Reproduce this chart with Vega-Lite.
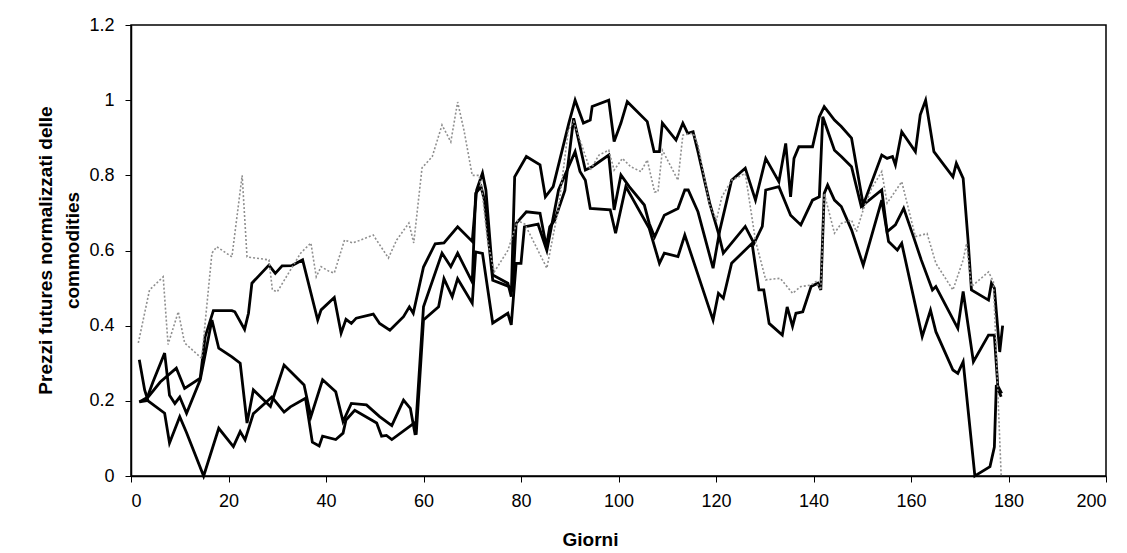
{
  "$schema": "https://vega.github.io/schema/vega-lite/v6.json",
  "autosize": "none",
  "width": 975,
  "height": 451,
  "padding": {"left": 131, "top": 25, "right": 21, "bottom": 77},
  "background": "white",
  "config": {
    "view": {"stroke": "black", "strokeWidth": 1.5},
    "font": "Liberation Sans",
    "axis": {
      "domainColor": "black", "domainWidth": 1.5, "tickColor": "black", "tickSize": 6, "tickWidth": 1,
      "labelColor": "black", "labelFont": "Liberation Sans", "labelFontSize": 18,
      "titleColor": "black", "titleFont": "Liberation Sans", "titleFontSize": 19, "titleFontWeight": "bold",
      "grid": false
    }
  },
  "data": {"values": [
    {"s":"A","d":1.7,"v":0.197},{"s":"A","d":3.5,"v":0.21},{"s":"A","d":6,"v":0.25},{"s":"A","d":9.3,"v":0.287},{"s":"A","d":11,"v":0.233},{"s":"A","d":14.2,"v":0.26},{"s":"A","d":15.2,"v":0.37},{"s":"A","d":16.9,"v":0.44},{"s":"A","d":20.7,"v":0.44},{"s":"A","d":21.3,"v":0.437},{"s":"A","d":23.3,"v":0.39},{"s":"A","d":24.1,"v":0.433},{"s":"A","d":24.8,"v":0.513},{"s":"A","d":28.3,"v":0.561},{"s":"A","d":29.6,"v":0.539},{"s":"A","d":31,"v":0.559},{"s":"A","d":33,"v":0.56},{"s":"A","d":35.2,"v":0.575},{"s":"A","d":38.3,"v":0.415},{"s":"A","d":39,"v":0.442},{"s":"A","d":41.7,"v":0.475},{"s":"A","d":43.1,"v":0.38},{"s":"A","d":44.1,"v":0.417},{"s":"A","d":45.2,"v":0.406},{"s":"A","d":46.2,"v":0.42},{"s":"A","d":49.7,"v":0.431},{"s":"A","d":51,"v":0.406},{"s":"A","d":53.1,"v":0.388},{"s":"A","d":55.9,"v":0.424},{"s":"A","d":57.1,"v":0.45},{"s":"A","d":57.9,"v":0.433},{"s":"A","d":60,"v":0.556},{"s":"A","d":62.4,"v":0.618},{"s":"A","d":64.2,"v":0.62},{"s":"A","d":67,"v":0.663},{"s":"A","d":70,"v":0.624},{"s":"A","d":70.9,"v":0.761},{"s":"A","d":72.1,"v":0.806},{"s":"A","d":72.8,"v":0.761},{"s":"A","d":74.2,"v":0.535},{"s":"A","d":77.3,"v":0.513},{"s":"A","d":78,"v":0.477},{"s":"A","d":78.7,"v":0.796},{"s":"A","d":81.1,"v":0.85},{"s":"A","d":83.9,"v":0.828},{"s":"A","d":85,"v":0.743},{"s":"A","d":86.6,"v":0.77},{"s":"A","d":89.8,"v":0.938},{"s":"A","d":91.1,"v":1.0},{"s":"A","d":92.8,"v":0.939},{"s":"A","d":94.2,"v":0.947},{"s":"A","d":94.6,"v":0.983},{"s":"A","d":98,"v":1.0},{"s":"A","d":99.1,"v":0.89},{"s":"A","d":100.5,"v":0.939},{"s":"A","d":101.8,"v":0.996},{"s":"A","d":105.9,"v":0.943},{"s":"A","d":107.3,"v":0.863},{"s":"A","d":108.4,"v":0.863},{"s":"A","d":109,"v":0.939},{"s":"A","d":111.8,"v":0.894},{"s":"A","d":113.2,"v":0.939},{"s":"A","d":114.2,"v":0.912},{"s":"A","d":115.3,"v":0.916},{"s":"A","d":116.3,"v":0.863},{"s":"A","d":118.7,"v":0.726},{"s":"A","d":120.5,"v":0.646},{"s":"A","d":121.5,"v":0.593},{"s":"A","d":126,"v":0.664},{"s":"A","d":127.8,"v":0.619},{"s":"A","d":129.5,"v":0.664},{"s":"A","d":130.2,"v":0.761},{"s":"A","d":132.9,"v":0.77},{"s":"A","d":135.3,"v":0.694},{"s":"A","d":137.4,"v":0.668},{"s":"A","d":139.8,"v":0.734},{"s":"A","d":141.2,"v":0.743},{"s":"A","d":141.9,"v":0.956},{"s":"A","d":144.3,"v":0.867},{"s":"A","d":145.7,"v":0.85},{"s":"A","d":147.8,"v":0.823},{"s":"A","d":149.8,"v":0.717},{"s":"A","d":154,"v":0.761},{"s":"A","d":155.1,"v":0.65},{"s":"A","d":156.8,"v":0.668},{"s":"A","d":158.5,"v":0.712},{"s":"A","d":160.5,"v":0.637},{"s":"A","d":162.1,"v":0.575},{"s":"A","d":164.4,"v":0.495},{"s":"A","d":165.1,"v":0.504},{"s":"A","d":169.6,"v":0.393},{"s":"A","d":170.7,"v":0.491},{"s":"A","d":172.8,"v":0.304},{"s":"A","d":175.9,"v":0.375},{"s":"A","d":177.1,"v":0.375},{"s":"A","d":177.8,"v":0.24},{"s":"A","d":178.6,"v":0.22},
    {"s":"B","d":1.7,"v":0.197},{"s":"B","d":3.1,"v":0.2},{"s":"B","d":4.5,"v":0.25},{"s":"B","d":6.9,"v":0.327},{"s":"B","d":7.9,"v":0.215},{"s":"B","d":9,"v":0.193},{"s":"B","d":10,"v":0.21},{"s":"B","d":11.4,"v":0.167},{"s":"B","d":14.2,"v":0.256},{"s":"B","d":16.6,"v":0.415},{"s":"B","d":18,"v":0.34},{"s":"B","d":20.7,"v":0.317},{"s":"B","d":22.4,"v":0.3},{"s":"B","d":23.8,"v":0.141},{"s":"B","d":25.1,"v":0.229},{"s":"B","d":28.6,"v":0.185},{"s":"B","d":31.4,"v":0.295},{"s":"B","d":35.5,"v":0.242},{"s":"B","d":36.9,"v":0.158},{"s":"B","d":39.3,"v":0.256},{"s":"B","d":42,"v":0.224},{"s":"B","d":43.5,"v":0.145},{"s":"B","d":45.2,"v":0.193},{"s":"B","d":48.3,"v":0.189},{"s":"B","d":51,"v":0.158},{"s":"B","d":53.5,"v":0.134},{"s":"B","d":55.9,"v":0.202},{"s":"B","d":57.3,"v":0.18},{"s":"B","d":58.3,"v":0.109},{"s":"B","d":60,"v":0.45},{"s":"B","d":63.8,"v":0.593},{"s":"B","d":65.6,"v":0.557},{"s":"B","d":67,"v":0.593},{"s":"B","d":70,"v":0.516},{"s":"B","d":70.7,"v":0.752},{"s":"B","d":71.8,"v":0.77},{"s":"B","d":72.5,"v":0.734},{"s":"B","d":74.2,"v":0.521},{"s":"B","d":77.6,"v":0.504},{"s":"B","d":78.3,"v":0.495},{"s":"B","d":79,"v":0.672},{"s":"B","d":81.1,"v":0.703},{"s":"B","d":83.9,"v":0.699},{"s":"B","d":85.2,"v":0.61},{"s":"B","d":85.9,"v":0.663},{"s":"B","d":86.9,"v":0.68},{"s":"B","d":89,"v":0.76},{"s":"B","d":90.8,"v":0.952},{"s":"B","d":93.2,"v":0.814},{"s":"B","d":94.6,"v":0.823},{"s":"B","d":98,"v":0.854},{"s":"B","d":99.1,"v":0.708},{"s":"B","d":100.5,"v":0.801},{"s":"B","d":102.2,"v":0.77},{"s":"B","d":105.3,"v":0.721},{"s":"B","d":106.3,"v":0.672},{"s":"B","d":107.4,"v":0.636},{"s":"B","d":109.4,"v":0.694},{"s":"B","d":112.2,"v":0.712},{"s":"B","d":113.6,"v":0.761},{"s":"B","d":114.3,"v":0.761},{"s":"B","d":116.3,"v":0.703},{"s":"B","d":119.4,"v":0.553},{"s":"B","d":120.8,"v":0.655},{"s":"B","d":123.2,"v":0.787},{"s":"B","d":126,"v":0.819},{"s":"B","d":128.1,"v":0.734},{"s":"B","d":130.2,"v":0.845},{"s":"B","d":132.9,"v":0.783},{"s":"B","d":134.3,"v":0.885},{"s":"B","d":135.3,"v":0.743},{"s":"B","d":136,"v":0.845},{"s":"B","d":137,"v":0.876},{"s":"B","d":139.8,"v":0.876},{"s":"B","d":141.2,"v":0.956},{"s":"B","d":142.2,"v":0.983},{"s":"B","d":144.3,"v":0.947},{"s":"B","d":145.7,"v":0.93},{"s":"B","d":147.8,"v":0.899},{"s":"B","d":150.2,"v":0.721},{"s":"B","d":154,"v":0.854},{"s":"B","d":155.1,"v":0.845},{"s":"B","d":156.2,"v":0.85},{"s":"B","d":156.8,"v":0.828},{"s":"B","d":158.1,"v":0.916},{"s":"B","d":160.9,"v":0.863},{"s":"B","d":161.9,"v":0.961},{"s":"B","d":163,"v":1.0},{"s":"B","d":164.7,"v":0.863},{"s":"B","d":168.6,"v":0.796},{"s":"B","d":169.3,"v":0.832},{"s":"B","d":170.7,"v":0.792},{"s":"B","d":171.7,"v":0.628},{"s":"B","d":172.4,"v":0.495},{"s":"B","d":175.9,"v":0.468},{"s":"B","d":176.5,"v":0.513},{"s":"B","d":177.1,"v":0.5},{"s":"B","d":178.2,"v":0.33},{"s":"B","d":178.8,"v":0.4},
    {"s":"C","d":1.7,"v":0.309},{"s":"C","d":2.8,"v":0.229},{"s":"C","d":3.5,"v":0.2},{"s":"C","d":6.9,"v":0.167},{"s":"C","d":7.9,"v":0.088},{"s":"C","d":10,"v":0.158},{"s":"C","d":11.4,"v":0.115},{"s":"C","d":14.9,"v":0.0},{"s":"C","d":18,"v":0.127},{"s":"C","d":21,"v":0.078},{"s":"C","d":22.4,"v":0.118},{"s":"C","d":23.4,"v":0.096},{"s":"C","d":25.1,"v":0.166},{"s":"C","d":28.9,"v":0.21},{"s":"C","d":31.4,"v":0.17},{"s":"C","d":32.7,"v":0.184},{"s":"C","d":35.8,"v":0.207},{"s":"C","d":37.2,"v":0.09},{"s":"C","d":38.6,"v":0.08},{"s":"C","d":39.3,"v":0.106},{"s":"C","d":42,"v":0.097},{"s":"C","d":43.5,"v":0.114},{"s":"C","d":44.1,"v":0.149},{"s":"C","d":45.9,"v":0.175},{"s":"C","d":50.4,"v":0.141},{"s":"C","d":51.4,"v":0.106},{"s":"C","d":52.4,"v":0.108},{"s":"C","d":53.5,"v":0.097},{"s":"C","d":58,"v":0.14},{"s":"C","d":58.5,"v":0.11},{"s":"C","d":60,"v":0.415},{"s":"C","d":63.1,"v":0.45},{"s":"C","d":64.2,"v":0.525},{"s":"C","d":65.9,"v":0.477},{"s":"C","d":67,"v":0.525},{"s":"C","d":70,"v":0.46},{"s":"C","d":70.7,"v":0.596},{"s":"C","d":72.1,"v":0.592},{"s":"C","d":74.2,"v":0.407},{"s":"C","d":77.3,"v":0.433},{"s":"C","d":78,"v":0.402},{"s":"C","d":79,"v":0.566},{"s":"C","d":80,"v":0.566},{"s":"C","d":80.7,"v":0.663},{"s":"C","d":83.5,"v":0.67},{"s":"C","d":85.3,"v":0.6},{"s":"C","d":87.7,"v":0.761},{"s":"C","d":91.1,"v":0.863},{"s":"C","d":92.1,"v":0.81},{"s":"C","d":93.2,"v":0.787},{"s":"C","d":94.2,"v":0.712},{"s":"C","d":98.3,"v":0.708},{"s":"C","d":99.4,"v":0.646},{"s":"C","d":101.5,"v":0.77},{"s":"C","d":106.3,"v":0.659},{"s":"C","d":108.4,"v":0.566},{"s":"C","d":109.4,"v":0.593},{"s":"C","d":112.2,"v":0.584},{"s":"C","d":113.6,"v":0.641},{"s":"C","d":118.7,"v":0.442},{"s":"C","d":119.4,"v":0.415},{"s":"C","d":120.5,"v":0.486},{"s":"C","d":121.5,"v":0.473},{"s":"C","d":123.2,"v":0.566},{"s":"C","d":127.4,"v":0.619},{"s":"C","d":128.8,"v":0.495},{"s":"C","d":129.8,"v":0.495},{"s":"C","d":130.9,"v":0.406},{"s":"C","d":133.6,"v":0.375},{"s":"C","d":134.6,"v":0.45},{"s":"C","d":135.7,"v":0.398},{"s":"C","d":136.4,"v":0.433},{"s":"C","d":137.8,"v":0.437},{"s":"C","d":139.5,"v":0.504},{"s":"C","d":140.9,"v":0.513},{"s":"C","d":141.5,"v":0.495},{"s":"C","d":142.2,"v":0.752},{"s":"C","d":142.9,"v":0.774},{"s":"C","d":144.3,"v":0.734},{"s":"C","d":145.7,"v":0.717},{"s":"C","d":147.8,"v":0.655},{"s":"C","d":150.2,"v":0.561},{"s":"C","d":154,"v":0.734},{"s":"C","d":155.4,"v":0.624},{"s":"C","d":157.2,"v":0.601},{"s":"C","d":158.1,"v":0.619},{"s":"C","d":162.3,"v":0.371},{"s":"C","d":164,"v":0.441},{"s":"C","d":165.1,"v":0.384},{"s":"C","d":168.6,"v":0.282},{"s":"C","d":169.6,"v":0.273},{"s":"C","d":170.7,"v":0.304},{"s":"C","d":173.1,"v":0.0},{"s":"C","d":176.2,"v":0.025},{"s":"C","d":177.1,"v":0.077},{"s":"C","d":177.5,"v":0.242},{"s":"C","d":178.5,"v":0.211},
    {"s":"G","d":1.5,"v":0.354},{"s":"G","d":3.8,"v":0.495},{"s":"G","d":6.6,"v":0.53},{"s":"G","d":7.6,"v":0.35},{"s":"G","d":9.7,"v":0.437},{"s":"G","d":11,"v":0.354},{"s":"G","d":14.5,"v":0.313},{"s":"G","d":16.6,"v":0.593},{"s":"G","d":17.6,"v":0.61},{"s":"G","d":20.7,"v":0.583},{"s":"G","d":22.8,"v":0.8},{"s":"G","d":23.8,"v":0.583},{"s":"G","d":28.3,"v":0.575},{"s":"G","d":29,"v":0.495},{"s":"G","d":30,"v":0.49},{"s":"G","d":34.8,"v":0.593},{"s":"G","d":36.9,"v":0.62},{"s":"G","d":38,"v":0.53},{"s":"G","d":39,"v":0.557},{"s":"G","d":40.7,"v":0.544},{"s":"G","d":41.7,"v":0.54},{"s":"G","d":43.8,"v":0.628},{"s":"G","d":45.5,"v":0.62},{"s":"G","d":49.7,"v":0.641},{"s":"G","d":52.8,"v":0.58},{"s":"G","d":54.5,"v":0.628},{"s":"G","d":57,"v":0.673},{"s":"G","d":58,"v":0.62},{"s":"G","d":59.7,"v":0.82},{"s":"G","d":61.8,"v":0.85},{"s":"G","d":63.8,"v":0.934},{"s":"G","d":65.6,"v":0.889},{"s":"G","d":67,"v":0.995},{"s":"G","d":68.3,"v":0.92},{"s":"G","d":70,"v":0.8},{"s":"G","d":71.4,"v":0.8},{"s":"G","d":72,"v":0.76},{"s":"G","d":73.1,"v":0.628},{"s":"G","d":74.5,"v":0.543},{"s":"G","d":77.3,"v":0.6},{"s":"G","d":79.3,"v":0.68},{"s":"G","d":80.8,"v":0.67},{"s":"G","d":85.3,"v":0.553},{"s":"G","d":87.7,"v":0.713},{"s":"G","d":89.7,"v":0.92},{"s":"G","d":90.8,"v":0.943},{"s":"G","d":94.2,"v":0.814},{"s":"G","d":96,"v":0.854},{"s":"G","d":98,"v":0.867},{"s":"G","d":99.1,"v":0.814},{"s":"G","d":100.8,"v":0.845},{"s":"G","d":102.5,"v":0.823},{"s":"G","d":104.6,"v":0.81},{"s":"G","d":105.9,"v":0.841},{"s":"G","d":107.4,"v":0.756},{"s":"G","d":108.1,"v":0.756},{"s":"G","d":109,"v":0.867},{"s":"G","d":112.2,"v":0.787},{"s":"G","d":113.2,"v":0.907},{"s":"G","d":115.3,"v":0.912},{"s":"G","d":116.3,"v":0.881},{"s":"G","d":118.7,"v":0.721},{"s":"G","d":120.1,"v":0.681},{"s":"G","d":121.2,"v":0.743},{"s":"G","d":123.2,"v":0.787},{"s":"G","d":126,"v":0.805},{"s":"G","d":128.1,"v":0.626},{"s":"G","d":130.2,"v":0.522},{"s":"G","d":133.2,"v":0.526},{"s":"G","d":135.7,"v":0.486},{"s":"G","d":137.4,"v":0.504},{"s":"G","d":139.5,"v":0.508},{"s":"G","d":140.5,"v":0.517},{"s":"G","d":141.5,"v":0.495},{"s":"G","d":142.2,"v":0.752},{"s":"G","d":144.3,"v":0.646},{"s":"G","d":145.7,"v":0.672},{"s":"G","d":147.8,"v":0.681},{"s":"G","d":148.8,"v":0.65},{"s":"G","d":150.2,"v":0.708},{"s":"G","d":151.9,"v":0.765},{"s":"G","d":154,"v":0.81},{"s":"G","d":155.1,"v":0.726},{"s":"G","d":158.1,"v":0.783},{"s":"G","d":160.9,"v":0.637},{"s":"G","d":163.3,"v":0.645},{"s":"G","d":165.1,"v":0.566},{"s":"G","d":168.6,"v":0.495},{"s":"G","d":170.7,"v":0.575},{"s":"G","d":171.4,"v":0.619},{"s":"G","d":172.4,"v":0.504},{"s":"G","d":175.9,"v":0.543},{"s":"G","d":176.9,"v":0.517},{"s":"G","d":178.5,"v":0.0}
  ]},
  "encoding": {
    "x": {"field": "d", "type": "quantitative", "scale": {"domain": [0, 200], "nice": false},
          "axis": {"values": [0,20,40,60,80,100,120,140,160,180,200], "title": "Giorni", "labelPadding": 10,
                   "titleX": 459, "titleY": 63, "titleBaseline": "middle", "titleAlign": "center"}},
    "y": {"field": "v", "type": "quantitative", "scale": {"domain": [0, 1.2], "nice": false},
          "axis": {"values": [0,0.2,0.4,0.6,0.8,1,1.2], "format": "~g", "labelPadding": 11,
                   "title": ["Prezzi futures normalizzati delle", "commodities"], "titleLineHeight": 27,
                   "titleX": -86, "titleY": 225, "titleBaseline": "middle", "titleAlign": "center", "titleAngle": -90}}
  },
  "layer": [
    {"transform": [{"filter": "datum.s != 'G'"}],
     "mark": {"type": "line", "color": "black", "strokeWidth": 2.8, "strokeJoin": "miter"},
     "encoding": {"detail": {"field": "s"}}},
    {"transform": [{"filter": "datum.s == 'G'"}],
     "mark": {"type": "line", "color": "#8f8f8f", "strokeWidth": 1.6, "strokeDash": [2, 2]},
     "encoding": {"detail": {"field": "s"}}}
  ]
}
